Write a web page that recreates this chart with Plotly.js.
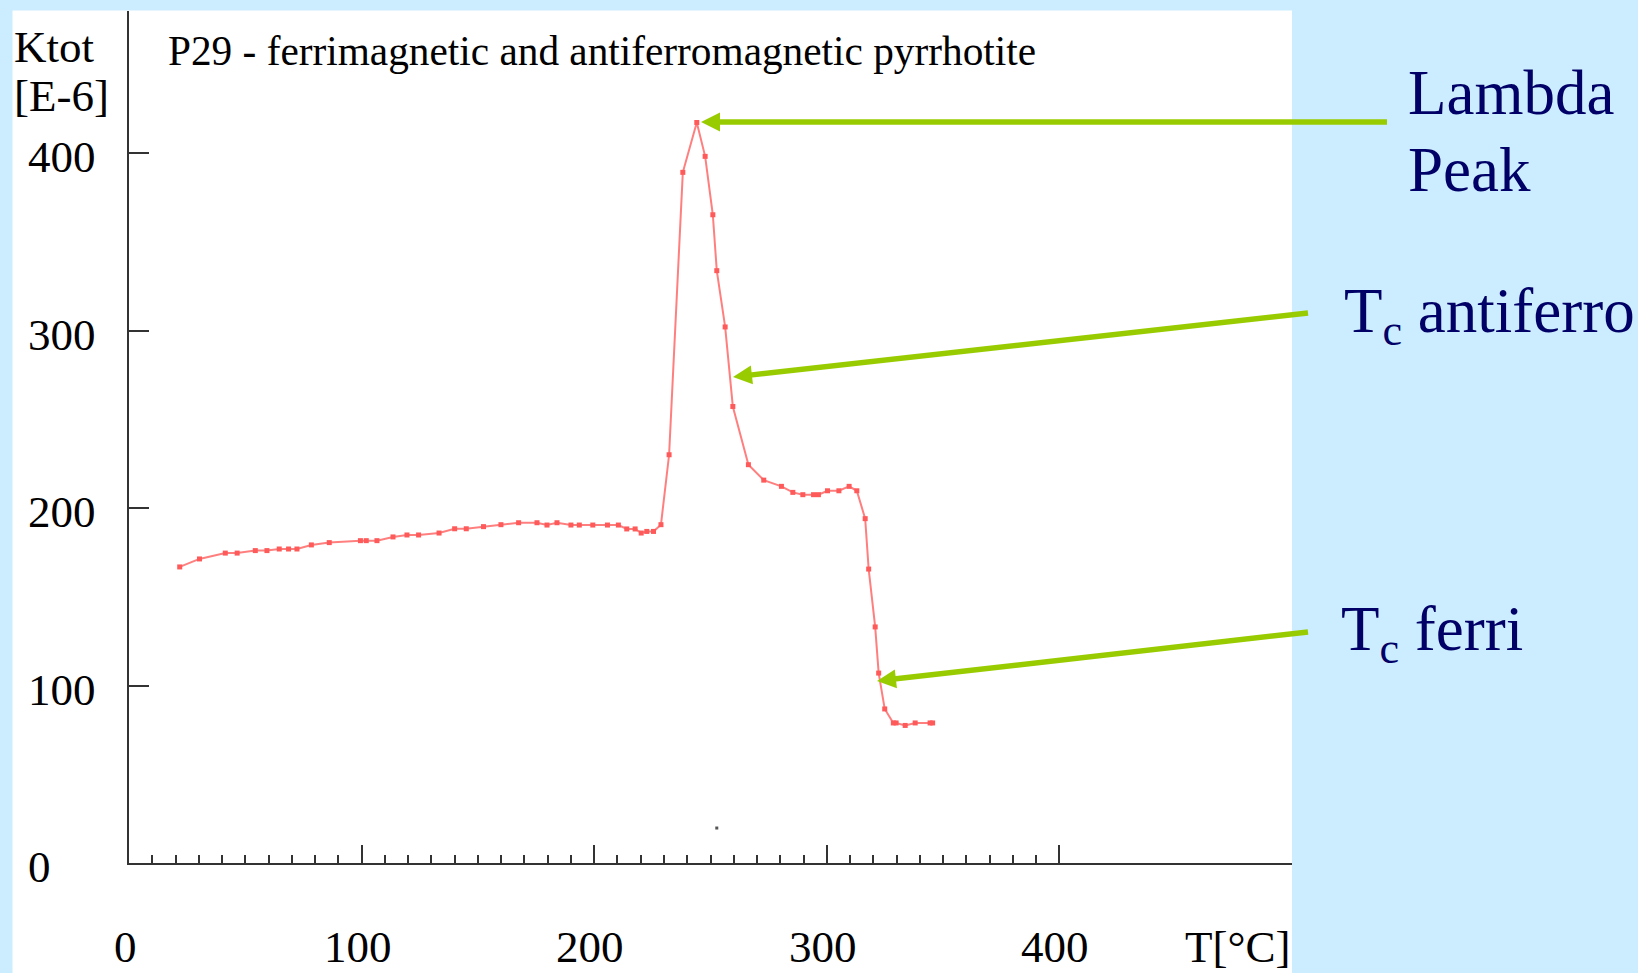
<!DOCTYPE html>
<html>
<head>
<meta charset="utf-8">
<script src="https://cdn.plot.ly/plotly-3.0.1.min.js"></script>
<style>
html,body{margin:0;padding:0;background:#CCECFF;overflow:hidden;}
#chart{width:1638px;height:973px;}
</style>
</head>
<body>
<div id="chart"></div>
<script>
// ---- data ----
const temperature = [21.8, 30.3, 41.4, 46.5, 54.3, 59.3, 64.6, 68.6, 72.2, 78.4,
  86.1, 99.5, 102, 106.6, 113.5, 119.5, 124.5, 133.3, 140, 145,
  152.4, 159.9, 167.5, 175.4, 179.7, 184, 190, 193.6, 199.4, 205.7,
  210.4, 214, 217.6, 220.2, 222.6, 225.5, 228.7, 232.2, 238.1, 244.1,
  247.7, 251, 252.7, 256.3, 259.6, 266.3, 272.9, 280.5, 285.4, 289.7,
  294.3, 296.4, 300.3, 305.2, 309.6, 312.9, 316.5, 318, 320.8, 322.3,
  324.9, 328.6, 329.8, 333.7, 338, 344.4, 345.5];
const ktot = [166.8, 171.3, 174.6, 174.6, 176, 176, 176.9, 176.9, 176.9, 179.2,
  180.5, 181.6, 181.6, 181.6, 183.7, 184.8, 184.8, 185.9, 188.3, 188.3,
  189.5, 190.6, 191.7, 191.7, 190.4, 191.7, 190.4, 190.4, 190.4, 190.4,
  190.4, 188.2, 188.2, 185.9, 186.8, 186.8, 190.6, 230, 389.1, 417.2,
  398.1, 365.2, 333.7, 302, 257.2, 224.4, 215.7, 212.2, 208.8, 207.5,
  207.5, 207.5, 209.7, 209.7, 212.2, 209.7, 194, 165.6, 133, 107,
  86.8, 78.9, 78.9, 77.5, 78.9, 78.9, 78.9];
const strayDotX = [252.7];
const strayDotY = [19.7];

const xTickVals = [0, 100, 200, 300, 400];
const xTickLabels = ['0', '100', '200', '300', '400'];
const yTickVals = [0, 100, 200, 300, 400];
const yTickLabels = ['0', '100', '200', '300', '400'];
const xMajorTicks = [100, 200, 300, 400];
const yMajorTicks = [100, 200, 300, 400];

const titleText = 'P29 - ferrimagnetic and antiferromagnetic pyrrhotite';
const yLabelLines = ['Ktot', '[E-6]'];
const xLabelText = 'T[°C]';
const calloutTexts = ['Lambda', 'Peak', 'T<sub>c</sub> antiferro', 'T<sub>c</sub> ferri'];

// minor ticks every 10 between the labelled ones
const xMinorTicks = [];
for (let v = 10; v < 400; v += 10) { if (v % 100 !== 0) xMinorTicks.push(v); }

// ---- geometry ----
const W = 1638, H = 973, L = 129, R = 346, T = 11, B = 110;
const PW = W - L - R, PH = H - T - B;
const px = v => (v - L) / PW;
const py = v => (H - B - v) / PH;

const serif = '"Liberation Serif", "Times New Roman", serif';
const axisColor = '#333333';
const navy = '#000066';
const green = '#99CC00';

const traces = [
  {
    x: temperature, y: ktot, type: 'scatter', mode: 'lines+markers',
    line: {color: '#FF7F7F', width: 2},
    marker: {symbol: 'square', size: 5, color: '#FF5A5A'},
    hoverinfo: 'skip', showlegend: false
  },
  {
    x: strayDotX, y: strayDotY, type: 'scatter', mode: 'markers',
    marker: {symbol: 'square', size: 3, color: '#555555'},
    hoverinfo: 'skip', showlegend: false
  }
];

const annotations = [];
// y tick labels (left aligned)
yTickVals.forEach((v, i) => annotations.push({
  xref: 'paper', yref: 'y', x: px(26), y: v, yshift: -4,
  xanchor: 'left', yanchor: 'middle', showarrow: false,
  text: yTickLabels[i], font: {family: serif, size: 45, color: '#000'}
}));
// x tick labels
xTickVals.forEach((v, i) => annotations.push({
  xref: 'x', yref: 'paper', x: v, y: py(947), xshift: -4,
  xanchor: 'center', yanchor: 'middle', showarrow: false,
  text: xTickLabels[i], font: {family: serif, size: 45, color: '#000'}
}));
// axis labels
annotations.push({
  xref: 'paper', yref: 'paper', x: px(1237), y: py(947),
  xanchor: 'center', yanchor: 'middle', showarrow: false,
  text: xLabelText, font: {family: serif, size: 45, color: '#000'}
});
annotations.push({
  xref: 'paper', yref: 'paper', x: px(12), y: py(47),
  xanchor: 'left', yanchor: 'middle', showarrow: false,
  text: yLabelLines[0], font: {family: serif, size: 45, color: '#000'}
});
annotations.push({
  xref: 'paper', yref: 'paper', x: px(12), y: py(96),
  xanchor: 'left', yanchor: 'middle', showarrow: false,
  text: yLabelLines[1], font: {family: serif, size: 45, color: '#000'}
});
// callout labels
const calloutPos = [[1406, 93], [1406, 170], [1342, 315], [1339, 633]];
calloutTexts.forEach((t, i) => annotations.push({
  xref: 'paper', yref: 'paper', x: px(calloutPos[i][0]), y: py(calloutPos[i][1]),
  xanchor: 'left', yanchor: 'middle', showarrow: false, align: 'left',
  text: t, font: {family: serif, size: 63, color: navy}
}));

// arrows drawn as shapes: [tipX, tipY, tailX, tailY] in pixels
const arrows = [[701, 122, 1387, 122], [733, 377, 1308, 313], [877, 681, 1308, 632]];
const shapes = [{
  type: 'rect', xref: 'paper', yref: 'paper', layer: 'below',
  x0: px(12.5), x1: px(1292), y0: py(975), y1: py(10.5),
  fillcolor: '#FFFFFF', line: {width: 0}
}];
const headLen = 19, headHalf = 9.5;
arrows.forEach(a => {
  const [tx, ty, sx, sy] = a;
  const len = Math.hypot(sx - tx, sy - ty);
  const ux = (sx - tx) / len, uy = (sy - ty) / len;
  const nx = -uy, ny = ux;
  const bx = tx + ux * headLen, by = ty + uy * headLen;
  const c1x = bx + nx * headHalf, c1y = by + ny * headHalf;
  const c2x = bx - nx * headHalf, c2y = by - ny * headHalf;
  const lx = tx + ux * (headLen - 2), ly = ty + uy * (headLen - 2);
  shapes.push({
    type: 'line', xref: 'paper', yref: 'paper', layer: 'above',
    x0: px(lx), y0: py(ly), x1: px(sx), y1: py(sy),
    line: {color: green, width: 5.5}
  });
  shapes.push({
    type: 'path', xref: 'paper', yref: 'paper', layer: 'above',
    path: 'M' + px(tx) + ',' + py(ty) + ' L' + px(c1x) + ',' + py(c1y) +
          ' L' + px(c2x) + ',' + py(c2y) + ' Z',
    fillcolor: green, line: {width: 0}
  });
});

const layout = {
  width: W, height: H,
  margin: {l: L, r: R, t: T, b: B, pad: 0},
  paper_bgcolor: '#CCECFF',
  plot_bgcolor: '#FFFFFF',
  showlegend: false,
  font: {family: serif, color: '#000'},
  title: {
    text: titleText, xref: 'container', yref: 'container',
    x: 168 / W, y: 1 - 51 / H, xanchor: 'left', yanchor: 'middle',
    font: {family: serif, size: 41.3, color: '#000'}
  },
  shapes: shapes,
  xaxis: {
    range: [0, 500], showline: true, linecolor: axisColor, linewidth: 2,
    ticks: 'inside', tickmode: 'array', tickvals: xMajorTicks,
    ticklen: 18, tickwidth: 2, tickcolor: axisColor,
    showticklabels: false, showgrid: false, zeroline: false, fixedrange: true,
    minor: {tickmode: 'array', tickvals: xMinorTicks, ticks: 'inside',
            ticklen: 8, tickwidth: 2, tickcolor: axisColor, showgrid: false}
  },
  yaxis: {
    range: [0, 480], showline: true, linecolor: axisColor, linewidth: 2,
    ticks: 'inside', tickmode: 'array', tickvals: yMajorTicks,
    ticklen: 20, tickwidth: 2, tickcolor: axisColor,
    showticklabels: false, showgrid: false, zeroline: false, fixedrange: true
  },
  annotations: annotations
};

Plotly.newPlot('chart', traces, layout, {staticPlot: true, displayModeBar: false});
</script>
</body>
</html>
